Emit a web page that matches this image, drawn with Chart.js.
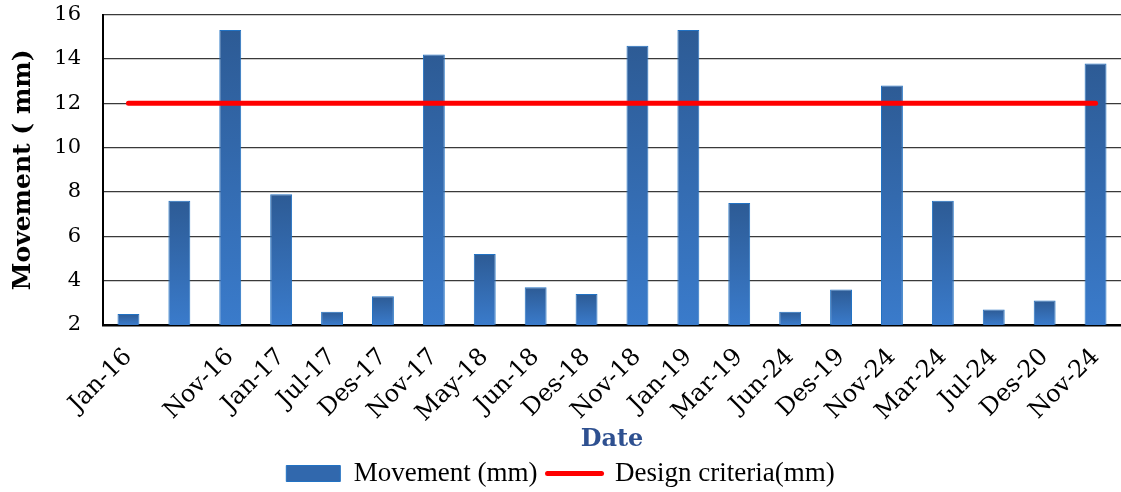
<!DOCTYPE html>
<html>
<head>
<meta charset="utf-8">
<script src="https://cdn.jsdelivr.net/npm/chart.js@4.4.1/dist/chart.umd.min.js"></script>
<style>
  body { margin: 0; background: #fff; }
  #wrap { width: 1121px; height: 492px; }
</style>
</head>
<body>
<div id="wrap"><canvas id="chart"></canvas></div>
<script>
// values
let dates = ['Jan-16', '', 'Nov-16', 'Jan-17', 'Jul-17', 'Des-17', 'Nov-17', 'May-18', 'Jun-18', 'Des-18',
             'Nov-18', 'Jan-19', 'Mar-19', 'Jun-24', 'Des-19', 'Nov-24', 'Mar-24', 'Jul-24', 'Des-20', 'Nov-24'];
let movement = [2.5, 7.6, 15.3, 7.9, 2.6, 3.3, 14.2, 5.2, 3.7, 3.4,
                14.6, 15.3, 7.5, 2.6, 3.6, 12.8, 7.6, 2.7, 3.1, 13.8];
let designCriteria = [12, 12, 12, 12, 12, 12, 12, 12, 12, 12,
                      12, 12, 12, 12, 12, 12, 12, 12, 12, 12];
let yMin = 2;
let yMax = 16;
let yStep = 2;

Chart.defaults.font.family = 'DejaVu Serif';
Chart.defaults.color = '#000';

let barFill = (context) => {
    if (context.type !== 'data' || !context.chart.chartArea) return '#3168ad';
    let chart = context.chart;
    let top = chart.scales.y.getPixelForValue(context.raw);
    let g = chart.ctx.createLinearGradient(0, top, 0, chart.chartArea.bottom);
    g.addColorStop(0, '#2d5b95');
    g.addColorStop(1, '#3a7bcb');
    return g;
};

let ctx = document.querySelector('#chart').getContext('2d');
const chart = new Chart(ctx, {
    type: 'bar',
    data: {
        labels: dates,
        datasets: [{
            label: 'Movement (mm)',
            data: movement,
            backgroundColor: barFill,
            borderColor: '#2272c3',
            borderWidth: 1,
            categoryPercentage: 1,
            barPercentage: 0.43,
            order: 1
        }, {
            type: 'line',
            label: 'Design criteria(mm)',
            data: designCriteria,
            borderColor: '#ff0000',
            borderWidth: 5,
            borderCapStyle: 'round',
            pointRadius: 0,
            fill: false,
            order: 0
        }]
    },
    options: {
        responsive: true,
        maintainAspectRatio: false,
        animation: false,
        layout: { padding: { top: 0, left: 0, right: 0, bottom: -5 } },
        scales: {
            x: {
                grid: { display: false, drawTicks: false },
                border: { color: '#000', width: 2.5 },
                ticks: {
                    autoSkip: false,
                    maxRotation: 45,
                    minRotation: 45,
                    padding: 18,
                    font: { size: 24 }
                },
                title: {
                    display: true,
                    text: 'Date',
                    color: '#2e5090',
                    font: { size: 24, weight: 'bold' },
                    padding: { top: 0, bottom: -4 }
                },
                afterFit: (scale) => {
                    scale.height = 125;
                    scale.paddingRight = 0;
                }
            },
            y: {
                min: yMin,
                max: yMax,
                ticks: { stepSize: yStep, padding: 2, font: { size: 21 } },
                grid: { color: '#3a3a3a', lineWidth: 1.2, tickLength: 20, tickColor: 'rgba(0,0,0,0)' },
                border: { color: '#000', width: 2 },
                title: {
                    display: true,
                    text: 'Movement ( mm)',
                    font: { size: 25, weight: 'bold' },
                    padding: { top: 8, bottom: 0 }
                },
                afterFit: (scale) => { scale.width = 103; }
            }
        },
        plugins: {
            tooltip: { enabled: false },
            legend: {
                position: 'bottom',
                labels: {
                    usePointStyle: true,
                    pointStyleWidth: 54,
                    boxHeight: 16,
                    padding: 10,
                    font: { family: 'Liberation Serif', size: 27 },
                    generateLabels: () => [{
                        text: 'Movement (mm)',
                        fillStyle: '#3168ad',
                        strokeStyle: '#2272c3',
                        lineWidth: 1,
                        pointStyle: 'rect',
                        fontColor: '#000',
                        datasetIndex: 0
                    }, {
                        text: 'Design criteria(mm)',
                        fillStyle: '#ff0000',
                        strokeStyle: '#ff0000',
                        lineWidth: 5,
                        lineCap: 'round',
                        pointStyle: 'line',
                        fontColor: '#000',
                        datasetIndex: 1
                    }]
                }
            }
        }
    }
});
</script>
</body>
</html>
